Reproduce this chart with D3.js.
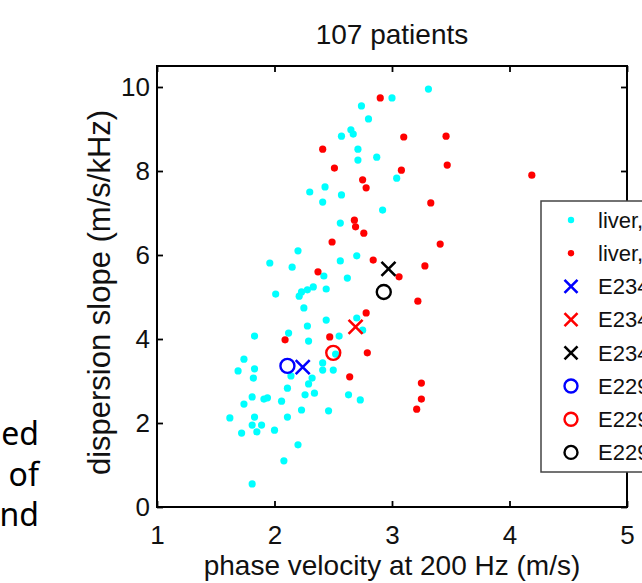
<!DOCTYPE html>
<html>
<head>
<meta charset="utf-8">
<script src="https://cdn.jsdelivr.net/npm/d3@7"></script>
<style>
  body { margin: 0; background: #fff; overflow: hidden; }
  svg { display: block; font-family: "Liberation Sans", Arial, sans-serif; }
</style>
</head>
<body>
<div id="chart"></div>
<script>
// liver group 1 (cyan dots), [phase velocity, dispersion slope]
const cyanPts = [
  [3.31,9.95],[3.00,9.74],[2.74,9.55],[2.80,9.24],[2.57,8.83],[2.65,8.98],[2.67,8.88],
  [2.71,8.52],[2.71,8.26],[2.87,8.33],[3.04,7.83],[2.43,7.62],[2.30,7.50],[2.41,7.26],
  [2.57,7.43],[2.92,7.07],[2.56,6.76],[2.20,6.10],[1.96,5.81],[2.15,5.71],[2.56,5.86],
  [2.70,5.98],[2.42,5.50],[2.62,5.45],[2.01,5.07],[2.21,5.02],[2.23,5.12],[2.28,5.17],
  [2.33,5.24],[2.44,5.19],[2.25,4.74],[2.44,4.45],[2.28,4.31],[2.12,4.14],[2.29,3.95],
  [1.83,4.07],[2.55,4.07],[2.70,4.50],[2.75,4.21],[1.74,3.52],[1.69,3.24],[1.83,3.29],
  [1.82,3.07],[2.14,3.12],[2.41,3.43],[2.41,3.26],[2.50,3.26],[2.52,3.64],[2.32,3.07],
  [2.29,2.93],[2.11,2.83],[1.81,2.62],[1.91,2.57],[1.94,2.60],[1.74,2.45],[2.06,2.52],
  [2.26,2.67],[2.34,2.71],[2.63,2.67],[2.73,2.55],[1.62,2.12],[1.83,2.14],[1.81,1.95],
  [1.89,1.95],[1.85,1.79],[1.72,1.76],[2.00,1.83],[2.11,2.14],[2.23,2.31],[2.46,2.29],
  [2.20,1.48],[2.08,1.10],[1.81,0.55]
];
// liver group 2 (red dots)
const redPts = [
  [2.90,9.74],[3.10,8.81],[3.46,8.83],[2.41,8.52],[3.47,8.14],[2.51,8.07],[3.08,8.02],
  [2.75,7.79],[2.78,7.60],[4.19,7.90],[3.33,7.24],[2.68,6.83],[2.69,6.67],[2.76,6.52],
  [2.49,6.31],[3.41,6.26],[2.84,5.88],[3.28,5.74],[3.06,5.48],[2.37,5.60],[3.22,4.90],
  [2.78,4.62],[2.09,3.98],[2.47,4.05],[2.79,3.67],[2.64,3.10],[3.25,2.95],[3.25,2.57],
  [3.21,2.33]
];
// individual cases
const caseNames = ["E2343", "E2344", "E2345", "E2291", "E2292", "E2293"];
const caseShapes = ["x", "x", "x", "o", "o", "o"];
const caseColors = ["#0000ff", "#ff0000", "#000000", "#0000ff", "#ff0000", "#000000"];
const caseX = [2.24, 2.69, 2.97, 2.11, 2.50, 2.93];
const caseY = [3.33, 4.29, 5.67, 3.36, 3.67, 5.12];

const groupNames = ["liver, healthy", "liver, fibrotic"];
const groupColors = ["#00ffff", "#ff0000"];

const xTicks = [1, 2, 3, 4, 5];
const yTicks = [0, 2, 4, 6, 8, 10];
const sideWords = ["ed", " of", "nd"];

const W = 642, H = 583;
const margin = { left: 157, right: 15, top: 66, bottom: 76 };

const svg = d3.select('#chart').append('svg')
  .attr('width', W).attr('height', H);

const x = d3.scaleLinear().domain([1, 5]).range([margin.left, W - margin.right]);
const y = d3.scaleLinear().domain([0, 10.5]).range([H - margin.bottom, margin.top]);

// partial slide text at left
svg.selectAll('text.side')
  .data(sideWords)
  .enter().append('text')
  .attr('class', 'side')
  .attr('x', 39)
  .attr('y', (d, i) => 445 + i * 40.5)
  .attr('text-anchor', 'end')
  .style('font-family', '"Noto Sans", "Open Sans", sans-serif')
  .style('font-size', '32px')
  .style('white-space', 'pre')
  .text(d => d);

// dots
svg.append('g').selectAll('circle')
  .data(cyanPts).enter().append('circle')
  .attr('cx', d => x(d[0])).attr('cy', d => y(d[1]))
  .attr('r', 3.6).attr('fill', groupColors[0]);

svg.append('g').selectAll('circle')
  .data(redPts).enter().append('circle')
  .attr('cx', d => x(d[0])).attr('cy', d => y(d[1]))
  .attr('r', 3.6).attr('fill', groupColors[1]);

function xPath(cx, cy, s) {
  return `M${cx - s},${cy - s}L${cx + s},${cy + s}M${cx - s},${cy + s}L${cx + s},${cy - s}`;
}

// case markers
const cases = caseNames.map((n, i) => ({ name: n, shape: caseShapes[i], color: caseColors[i], x: caseX[i], y: caseY[i] }));
const cg = svg.append('g');
cases.forEach(c => {
  if (c.shape === 'x') {
    cg.append('path').attr('d', xPath(x(c.x), y(c.y), 7))
      .attr('stroke', c.color).attr('stroke-width', 2.6).attr('fill', 'none');
  } else {
    cg.append('circle').attr('cx', x(c.x)).attr('cy', y(c.y)).attr('r', 7)
      .attr('stroke', c.color).attr('stroke-width', 2.4).attr('fill', 'none');
  }
});

// axes (ticks inward on all sides)
const fs = '26px';
const xAxis = svg.append('g')
  .attr('transform', `translate(0,${H - margin.bottom})`)
  .call(d3.axisBottom(x).tickValues(xTicks).tickFormat(d3.format('d'))
    .tickSizeInner(-6).tickSizeOuter(0).tickPadding(19));
const yAxis = svg.append('g')
  .attr('transform', `translate(${margin.left},0)`)
  .call(d3.axisLeft(y).tickValues(yTicks).tickSizeInner(-6).tickSizeOuter(0).tickPadding(7));
svg.append('g')
  .attr('transform', `translate(0,${margin.top})`)
  .call(d3.axisTop(x).tickValues(xTicks).tickSizeInner(-6).tickSizeOuter(0).tickFormat(''));
svg.append('g')
  .attr('transform', `translate(${W - margin.right},0)`)
  .call(d3.axisRight(y).tickValues(yTicks).tickSizeInner(-6).tickSizeOuter(0).tickFormat(''));

svg.selectAll('.domain').remove();
svg.selectAll('.tick line').attr('stroke', '#000').attr('stroke-width', 1.8);
svg.selectAll('.tick text').style('font-size', fs).attr('fill', '#111');

svg.append('rect')
  .attr('x', margin.left).attr('y', margin.top)
  .attr('width', W - margin.right - margin.left)
  .attr('height', H - margin.bottom - margin.top)
  .attr('fill', 'none').attr('stroke', '#000').attr('stroke-width', 2);

// labels
svg.append('text')
  .attr('x', (margin.left + W - margin.right) / 2).attr('y', 44)
  .attr('text-anchor', 'middle').style('font-size', '28px').attr('fill', '#111')
  .text('107 patients');
svg.append('text')
  .attr('x', (margin.left + W - margin.right) / 2).attr('y', 575)
  .attr('text-anchor', 'middle').style('font-size', '28px').attr('fill', '#111')
  .text('phase velocity at 200 Hz (m/s)');
svg.append('text')
  .attr('transform', `translate(110,${(margin.top + H - margin.bottom) / 2 + 6}) rotate(-90)`)
  .attr('text-anchor', 'middle').style('font-size', '31px').attr('fill', '#111')
  .text('dispersion slope (m/s/kHz)');

// legend (box runs off the right edge)
const legendItems = [
  { label: groupNames[0], kind: 'dot', color: groupColors[0] },
  { label: groupNames[1], kind: 'dot', color: groupColors[1] },
  ...cases.map(c => ({ label: c.name, kind: c.shape, color: c.color }))
];
const lg = svg.append('g');
lg.append('rect')
  .attr('x', 541).attr('y', 201).attr('width', 200).attr('height', 271)
  .attr('fill', '#fff').attr('stroke', '#444').attr('stroke-width', 1.5);
const rows = lg.selectAll('g.row').data(legendItems).enter().append('g')
  .attr('class', 'row')
  .attr('transform', (d, i) => `translate(571,${220 + i * 33.2})`);
rows.each(function (d) {
  const g = d3.select(this);
  if (d.kind === 'dot') {
    g.append('circle').attr('r', 3.2).attr('fill', d.color);
  } else if (d.kind === 'x') {
    g.append('path').attr('d', xPath(0, 0, 6.5)).attr('stroke', d.color)
      .attr('stroke-width', 2.6).attr('fill', 'none');
  } else {
    g.append('circle').attr('r', 6.5).attr('stroke', d.color)
      .attr('stroke-width', 2.4).attr('fill', 'none');
  }
});
rows.append('text')
  .attr('x', 27).attr('dy', '0.35em')
  .style('font-size', '22px').attr('fill', '#111')
  .text(d => d.label);
</script>
</body>
</html>
